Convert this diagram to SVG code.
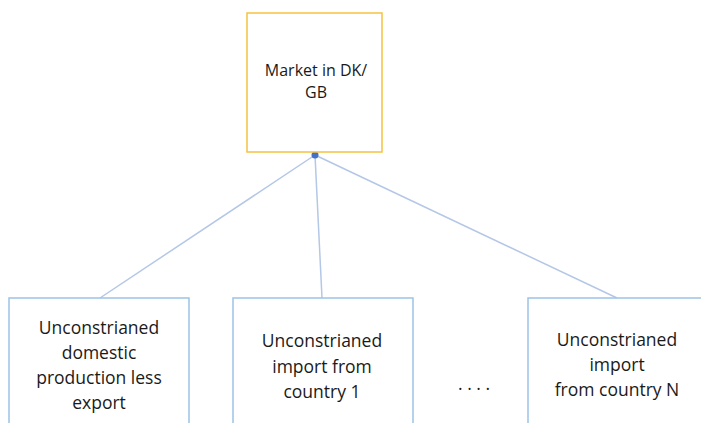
<svg xmlns="http://www.w3.org/2000/svg" width="701" height="423" viewBox="0 0 701 423">
<style>
.t{font-family:"Open Sans","Liberation Sans",sans-serif;font-size:17.5px;fill:#1a1a1a;text-anchor:middle}
.m{font-size:16px}
.b{fill:#fff;stroke:#9dc3e6;stroke-width:1.5}
.c{stroke:#b4c7e7;stroke-width:1.5;fill:none}
</style>
<rect width="701" height="423" fill="#fff"/>
<g id="connectors">
<line class="c" x1="315" y1="155" x2="100" y2="298"/>
<line class="c" x1="315" y1="155" x2="322" y2="298"/>
<line class="c" x1="315" y1="155" x2="617" y2="298"/>
<circle cx="315" cy="155" r="3.5" fill="#4472c4"/>
</g>
<g id="market">
<rect x="247" y="13" width="135" height="139" fill="#fff" stroke="#f5c242" stroke-width="1.5"/>
<text class="t m" x="316" y="76">Market in DK/</text>
<text class="t m" x="316" y="98">GB</text>
</g>
<g id="domestic">
<rect class="b" x="9" y="298" width="180" height="140"/>
<text class="t" x="99" y="334">Unconstrianed</text>
<text class="t" x="99" y="359">domestic</text>
<text class="t" x="99" y="384">production less</text>
<text class="t" x="99" y="409">export</text>
</g>
<g id="import1">
<rect class="b" x="233" y="298" width="180" height="140"/>
<text class="t" x="322" y="347">Unconstrianed</text>
<text class="t" x="322" y="373">import from</text>
<text class="t" x="322" y="398">country 1</text>
</g>
<g id="dots">
<text class="t" x="474" y="390">. . . .</text>
</g>
<g id="importN">
<rect class="b" x="528" y="298" width="190" height="140"/>
<text class="t" x="617" y="346">Unconstrianed</text>
<text class="t" x="617" y="371">import</text>
<text class="t" x="617" y="396">from country N</text>
</g>
</svg>
